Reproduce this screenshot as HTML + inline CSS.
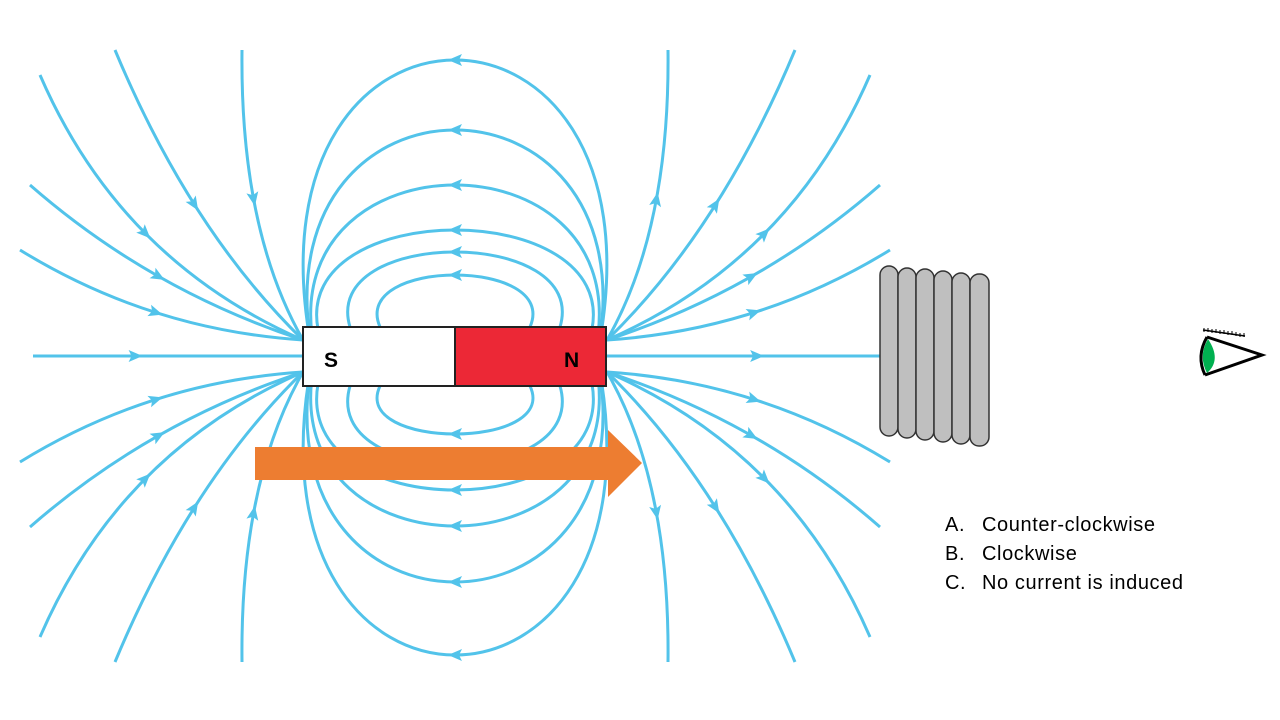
<!DOCTYPE html>
<html><head><meta charset="utf-8"><style>
html,body{margin:0;padding:0;background:#fff;width:1280px;height:720px;overflow:hidden}
svg{position:absolute;left:0;top:0}
.t{position:absolute;font-family:"Liberation Sans",sans-serif;font-size:20px;letter-spacing:0.6px;color:#000}
</style></head><body>
<svg id="s" width="1280" height="720" viewBox="0 0 1280 720">
<g id="lines" fill="none" stroke="#52c3ea" stroke-width="3"></g>
<g id="arr" fill="#52c3ea"></g>
<rect x="303" y="327" width="152" height="59" fill="#fff" stroke="#222" stroke-width="2"/>
<rect x="455" y="327" width="151" height="59" fill="#ec2836" stroke="#222" stroke-width="2"/>
<text x="324" y="367" font-family="Liberation Sans,sans-serif" font-weight="bold" font-size="21">S</text>
<text x="564" y="367" font-family="Liberation Sans,sans-serif" font-weight="bold" font-size="21">N</text>
<polygon points="255,447 608,447 608,430 642,463 608,497 608,480 255,480" fill="#ed7d31"/>
<g fill="#bfbfbf" stroke="#333" stroke-width="1.5">
<rect x="880" y="266" width="18" height="170" rx="9"/>
<rect x="898" y="268" width="18" height="170" rx="9"/>
<rect x="916" y="269" width="18" height="171" rx="9"/>
<rect x="934" y="271" width="18" height="171" rx="9"/>
<rect x="952" y="273" width="18" height="171" rx="9"/>
<rect x="970" y="274" width="19" height="172" rx="9"/>
</g>
<path d="M1208,339 Q1198,356 1207,373 Q1222,360 1208,339Z" fill="#00b050"/>
<path d="M1207,337 L1262,355 L1205,375 M1207,337 Q1196,356 1205,375" fill="none" stroke="#000" stroke-width="3"/>
<path d="M1203,330 L1245,336" stroke="#000" stroke-width="1.5"/>
<g stroke="#000" stroke-width="1"><path d="M1204,328v4M1208,328v4M1212,329v4M1216,329v4M1220,330v4M1224,330v4M1228,331v4M1232,331v4M1236,332v4M1240,333v4M1244,333v4"/></g>
</svg>
<div class="t" style="left:945px;top:514px">A.</div><div class="t" style="left:982px;top:514px">Counter-clockwise</div>
<div class="t" style="left:945px;top:543px">B.</div><div class="t" style="left:982px;top:543px">Clockwise</div>
<div class="t" style="left:945px;top:572px">C.</div><div class="t" style="left:982px;top:572px">No current is induced</div>
<script>
var NS="http://www.w3.org/2000/svg",L=document.getElementById('lines'),A=document.getElementById('arr');
function add(d,f){var p=document.createElementNS(NS,'path');p.setAttribute('d',d);L.appendChild(p);
var len=p.getTotalLength(),a=p.getPointAtLength(len*f),b=p.getPointAtLength(len*f+1),ang=Math.atan2(b.y-a.y,b.x-a.x)*180/Math.PI;
var t=document.createElementNS(NS,'path');t.setAttribute('d','M7,0 L-7,-6 L-4,0 L-7,6Z');t.setAttribute('transform','translate('+a.x+','+a.y+') rotate('+ang+')');A.appendChild(t);}
[[60,65,600,310,340,372,655],[130,40,600,310,338,374,582],[185,25,598,312,335,377,526],[230,25,592,318,329,384,490],[252,30,560,350,327,386,464],[275,30,530,380,327,386,434]].forEach(function(v){
 var yt=v[0],d=v[1],xr=v[2],xl=v[3],y0=v[4],y1=v[5],yb=v[6];
 var h=y0-yt,c=h/0.75;
 add('M'+xr+','+y0+' C'+(xr+d)+','+(y0-c)+' '+(xl-d)+','+(y0-c)+' '+xl+','+y0,0.5);
 var hb=yb-y1,cb=hb/0.75;
 add('M'+xr+','+y1+' C'+(xr+d)+','+(y1+cb)+' '+(xl-d)+','+(y1+cb)+' '+xl+','+y1,0.5);
});
var R=[[670,230,668,50],[720,230,795,50],[790,260,870,75],[760,290,880,185],[760,330,890,250]];
R.forEach(function(r){
 add('M607,340 Q'+r[0]+','+r[1]+' '+r[2]+','+r[3],0.5);
 add('M607,372 Q'+r[0]+','+(712-r[1])+' '+r[2]+','+(712-r[3]),0.5);
 var mx=910;
 add('M'+(mx-r[2])+','+r[3]+' Q'+(mx-r[0])+','+r[1]+' 303,340',0.5);
 add('M'+(mx-r[2])+','+(712-r[3])+' Q'+(mx-r[0])+','+(712-r[1])+' 303,372',0.5);
});
add('M607,356 L880,356',0.55);
add('M33,356 L303,356',0.38);
</script>
</body></html>
